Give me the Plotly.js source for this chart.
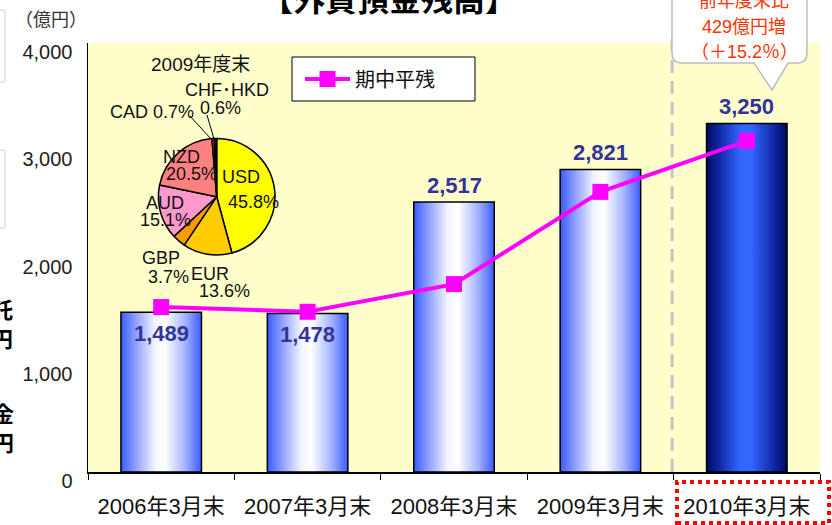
<!DOCTYPE html>
<html><head><meta charset="utf-8">
<script src="https://cdn.plot.ly/plotly-3.0.1.min.js"></script>
<style>html,body{margin:0;padding:0;background:#fff;} #chart{width:832px;height:525px;}</style>
</head><body><div id="chart"></div>
<script>
// ---- data ----
const categories = ['2006年3月末','2007年3月末','2008年3月末','2009年3月末','2010年3月末'];
const balances = [1489, 1478, 2517, 2821, 3250];
const balanceLabels = ['1,489','1,478','2,517','2,821','3,250'];
const avgBalances = [1538, 1494, 1752, 2612, 3088];
const avgName = '期中平残';
const yTickVals = [0, 1000, 2000, 3000, 4000];
const yTickText = ['0', '1,000', '2,000', '3,000', '4,000'];
const pieTitle = '2009年度末';
const pieLabels = ['USD','EUR','GBP','AUD','NZD','CAD','CHF･HKD'];
const pieShares = [45.8, 13.6, 3.7, 15.1, 20.5, 0.7, 0.6];
const calloutLines = ['前年度末比','429億円増','（＋15.2％）'];
const chartTitle = '【外貨預金残高】';
const unitLabel = '（億円）';

// ---- geometry helpers (pixels -> paper) ----
const L = 88, R = 820, T = 43, B = 472;
const px = p => (p - L) / (R - L);
const py = p => (B - p) / (B - T);
const P = (a, b) => px(a) + ',' + py(b);

const FONT = 'Liberation Sans, Arial, Noto Sans CJK JP, sans-serif';
const JFONT = 'Liberation Sans, Noto Sans CJK JP, sans-serif';
const BOLDNUM = 'Liberation Sans, Arial, sans-serif';

const pieColors = ['#ffff00','#ffcc00','#ff9900','#ff99cc','#ff8080','#cc0000','#2a0000'];

const traces = [
  {type:'bar', x:categories, y:balances, width:0.55,
   marker:{color:['#6680ff','#6680ff','#6680ff','#6680ff','#1a3399'], line:{color:'#000', width:1.5}},
   showlegend:false, hoverinfo:'skip'},
  {type:'scatter', mode:'lines+markers', x:categories, y:avgBalances, name:avgName,
   line:{color:'#ff00ff', width:4}, marker:{symbol:'square', size:16, color:'#ff00ff'}, hoverinfo:'skip'},
  {type:'pie', labels:pieLabels, values:pieShares, sort:false, direction:'clockwise', rotation:0,
   marker:{colors:pieColors, line:{color:'#000', width:1.5}}, textinfo:'none',
   domain:{x:[px(216.7-58.3), px(216.7+58.3)], y:[py(196.7+58.3), py(196.7-58.3)]},
   showlegend:false, hoverinfo:'skip'}
];

// pie label positions (pixel centres)
const pieLabelPos = [[241,177],[210,274],[161,258],[165,203],[181,157],[152,112],[227,90]];
const pieValPos   = [[253,202],[224,291],[168,277],[165,220],[191,174],[null,null],[220,108]];

const annotations = [];
// bar value labels
balances.forEach((v, i) => {
  annotations.push({x:categories[i], y:v, xref:'x', yref:'y', text:'<b>'+balanceLabels[i]+'</b>',
    showarrow:false, yanchor:'middle', yshift: i < 2 ? -21 : 17,
    font:{family:BOLDNUM, size:22, color:'#333399'}});
});
// pie labels
annotations.push({xref:'paper', yref:'paper', x:px(200), y:py(64), text:pieTitle, showarrow:false,
  xanchor:'center', yanchor:'middle', font:{family:JFONT, size:19, color:'#111'}});
pieLabels.forEach((lab, i) => {
  const t = (i === 5) ? lab + ' ' + pieShares[i] + '%' : lab;
  annotations.push({xref:'paper', yref:'paper', x:px(pieLabelPos[i][0]), y:py(pieLabelPos[i][1]), text:t,
    showarrow:false, xanchor:'center', yanchor:'middle', font:{family:JFONT, size:18, color:'#111'}});
  if (pieValPos[i][0] !== null) {
    annotations.push({xref:'paper', yref:'paper', x:px(pieValPos[i][0]), y:py(pieValPos[i][1]),
      text:pieShares[i].toFixed(1) + '%', showarrow:false, xanchor:'center', yanchor:'middle',
      font:{family:FONT, size:18, color:'#111'}});
  }
});
// title
annotations.push({xref:'paper', yref:'paper', x:px(389), y:py(-3), text:'<b>'+chartTitle+'</b>', showarrow:false,
  xanchor:'center', yanchor:'middle', font:{family:'Noto Sans CJK JP', size:32, color:'#000'}});
// unit
annotations.push({xref:'paper', yref:'paper', x:px(51), y:py(18), text:unitLabel, showarrow:false,
  xanchor:'center', yanchor:'middle', font:{family:'Noto Sans CJK JP', size:18, color:'#333'}});
// callout text
const calloutY = [1, 27, 52];
calloutLines.forEach((t, i) => {
  annotations.push({xref:'paper', yref:'paper', x:px(744), y:py(calloutY[i]), text:t, showarrow:false,
    xanchor:'center', yanchor:'middle', font:{family:JFONT, size:18, color:'#ff3300'}});
});
// cut-off text on the left edge
annotations.push({xref:'paper', yref:'paper', x:px(15), y:py(322), text:'<b>託<br>円</b>', showarrow:false,
  xanchor:'right', yanchor:'middle', align:'right', font:{family:'Noto Sans CJK JP', size:22, color:'#000'}});
annotations.push({xref:'paper', yref:'paper', x:px(16), y:py(426), text:'<b>金<br>円</b>', showarrow:false,
  xanchor:'right', yanchor:'middle', align:'right', font:{family:'Noto Sans CJK JP', size:22, color:'#000'}});

const callout = 'M ' + P(682,-12) + ' L ' + P(797,-12) + ' Q ' + P(807,-12) + ' ' + P(807,-2) +
  ' L ' + P(807,53) + ' Q ' + P(807,63) + ' ' + P(797,63) + ' L ' + P(788,63) + ' L ' + P(772,90) +
  ' L ' + P(754,63) + ' L ' + P(682,63) + ' Q ' + P(672,63) + ' ' + P(672,53) + ' L ' + P(672,-2) +
  ' Q ' + P(672,-12) + ' ' + P(682,-12) + ' Z';

const shapes = [
  {type:'line', xref:'x', yref:'paper', x0:3.49, x1:3.49, y0:0, y1:py(38), layer:'below',
   line:{color:'#c4c4c4', width:3, dash:'13px,8px'}},
  {type:'rect', xref:'paper', yref:'paper', x0:px(292), x1:px(475), y0:py(101), y1:py(57), layer:'below',
   fillcolor:'#fff', line:{color:'#000', width:1}},
  {type:'path', xref:'paper', yref:'paper', path:callout, layer:'above', fillcolor:'#fff',
   line:{color:'#bdbdbd', width:1.5}},
  {type:'rect', xref:'paper', yref:'paper', x0:px(677), x1:px(829), y0:py(523), y1:py(482),
   line:{color:'#ff0000', width:4, dash:'dot'}},
  {type:'rect', xref:'paper', yref:'paper', x0:px(-20), x1:px(5), y0:py(82), y1:py(10),
   line:{color:'#d0d0d0', width:1}},
  {type:'rect', xref:'paper', yref:'paper', x0:px(-20), x1:px(5), y0:py(228), y1:py(150),
   line:{color:'#d0d0d0', width:1}},
  {type:'line', xref:'paper', yref:'paper', x0:px(190), y0:py(116), x1:px(211), y1:py(139),
   line:{color:'#000', width:1}},
  {type:'line', xref:'paper', yref:'paper', x0:px(207), y0:py(115), x1:px(214), y1:py(139),
   line:{color:'#000', width:1}}
];

const layout = {
  width:832, height:525,
  margin:{l:L, r:832-R, t:T, b:525-B, pad:0},
  paper_bgcolor:'#ffffff', plot_bgcolor:'#ffffcc',
  font:{family:JFONT, color:'#111'},
  showlegend:true,
  legend:{x:px(300), xanchor:'left', y:py(79), yanchor:'middle', bgcolor:'rgba(0,0,0,0)', borderwidth:0,
    font:{family:'Noto Sans CJK JP', size:20, color:'#111'}, itemwidth:45},
  xaxis:{type:'category', categoryorder:'array', categoryarray:categories, range:[-0.5, 4.5],
    showline:true, linecolor:'#000', linewidth:1.5, ticks:'outside', tickson:'boundaries', ticklen:6,
    tickcolor:'#000', tickwidth:1, showgrid:false, zeroline:false, ticklabelstandoff:14,
    tickfont:{family:JFONT, size:22, color:'#111'}},
  yaxis:{range:[0, 4000], tickmode:'array', tickvals:yTickVals, ticktext:yTickText,
    showline:true, linecolor:'#000', linewidth:1.5, ticks:'', showgrid:false, zeroline:false,
    ticklabelshift:9, ticklabelstandoff:10, tickfont:{family:FONT, size:20, color:'#222'}},
  bargap:0.45,
  annotations:annotations, shapes:shapes
};

function addGradients(gd) {
  const NS = 'http://www.w3.org/2000/svg';
  const svg = gd.querySelector('.main-svg');
  let defs = svg.querySelector('defs');
  if (!defs) { defs = document.createElementNS(NS, 'defs'); svg.insertBefore(defs, svg.firstChild); }
  const mk = (id, stops) => {
    if (document.getElementById(id)) return;
    const g = document.createElementNS(NS, 'linearGradient');
    g.setAttribute('id', id); g.setAttribute('x1','0'); g.setAttribute('x2','1');
    g.setAttribute('y1','0'); g.setAttribute('y2','0');
    stops.forEach(s => { const st = document.createElementNS(NS, 'stop');
      st.setAttribute('offset', s[0]); st.setAttribute('stop-color', s[1]); g.appendChild(st); });
    defs.appendChild(g);
  };
  mk('gradA', [[0,'#3a5cff'],[0.15,'#7f93ff'],[0.42,'#f2f4ff'],[0.55,'#ffffff'],[0.8,'#a3b2ff'],[1,'#3a5cff']]);
  mk('gradB', [[0,'#000c5e'],[0.13,'#0c2299'],[0.42,'#3366ff'],[0.55,'#3366ff'],[0.87,'#0c2299'],[1,'#000a5c']]);
  gd.querySelectorAll('.barlayer .point path').forEach((p, i) => {
    p.style.fill = (i === 4) ? 'url(#gradB)' : 'url(#gradA)';
  });
}

Plotly.newPlot('chart', traces, layout, {staticPlot:true, displayModeBar:false}).then(gd => {
  addGradients(gd);
  gd.on && gd.on('plotly_afterplot', () => addGradients(gd));
});
</script></body></html>
